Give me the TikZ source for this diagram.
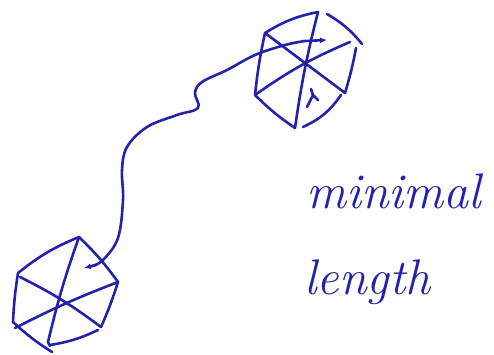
\documentclass[tikz,border=0pt]{standalone}
\usetikzlibrary{arrows.meta}
\definecolor{ink}{RGB}{35,35,170}
\begin{document}
\begin{tikzpicture}[x=1pt,y=-1pt,
  pen/.style={draw=ink,line width=2.6pt,line cap=round,line join=round},
  tip/.style={-{Latex[length=7pt,width=6pt]}},
  word/.style={text=ink,font=\fontsize{50}{54}\selectfont\itshape,inner sep=0pt,anchor=base west}]
\useasboundingbox (0,0) rectangle (494,354);
% top hexagon vertices
\coordinate (T1) at (265,33);
\coordinate (T2) at (318,12);
\coordinate (T2b) at (327,14);
\coordinate (T3) at (362,44);
\coordinate (T3b) at (356,48);
\coordinate (T4) at (345,93);
\coordinate (T4b) at (341,95);
\coordinate (T5) at (303,127);
\coordinate (T5b) at (295,128);
\coordinate (T6) at (255,95);
\coordinate (Tm) at (327,40);
% bottom hexagon vertices
\coordinate (B1) at (79,237);
\coordinate (B2) at (118,282);
\coordinate (B3) at (101,327);
\coordinate (B3b) at (98,330);
\coordinate (B4) at (52,352);
\coordinate (B5) at (13,322);
\coordinate (B6) at (18,273);
\coordinate (Bm) at (84,268);
% top hexagon
\draw[pen] (T1) to[bend left=10] (T2);
\draw[pen] (T2b) to[bend left=10] (T3);
\draw[pen] (T3b) to[bend left=3] (T4);
\draw[pen] (T4b) to[bend left=15] (T5);
\draw[pen] (T6) to[bend right=5] (T5b);
\draw[pen] (T1) to[bend right=3] (T6);
\draw[pen] (T1) -- (T4);
\draw[pen] (T2) to[bend right=3] (T5b);
\draw[pen] (T6) to[bend left=6] (350,42);
\draw[pen] (307,107) -- (313,95) -- (311,89) (313,95) -- (318,100);
% bottom hexagon
\draw[pen] (B1) to[bend right=8] (B6);
\draw[pen] (B1) to[bend left=5] (B2);
\draw[pen] (B2) to[bend left=3] (B3);
\draw[pen] (B3b) to[bend left=8] (50,345);
\draw[pen] (B6) to[bend right=3] (B5);
\draw[pen] (B5) to[bend right=5] (B4);
\draw[pen] (B1) to[bend right=3] (48,342) -- (50,346);
\draw[pen] (20,277) to[bend left=5] (B3);
\draw[pen] (15,328) to[bend left=3] (B2);
% connecting curve
\draw[pen,tip] plot[smooth,tension=0.6] coordinates {(92,266) (103,260) (118,238) (123,200) (122,170) (127,147) (147,127) (177,115) (198,108) (195,93) (202,82) (227,70) (255,55) (285,45) (305,41)} -- (Tm);
\draw[pen,tip] (96,265) -- (Bm);
% text
\node[word] (w1) at (306,208) {minimal};
\node[word] (w2) at (304,294) {length};
\end{tikzpicture}
\end{document}
